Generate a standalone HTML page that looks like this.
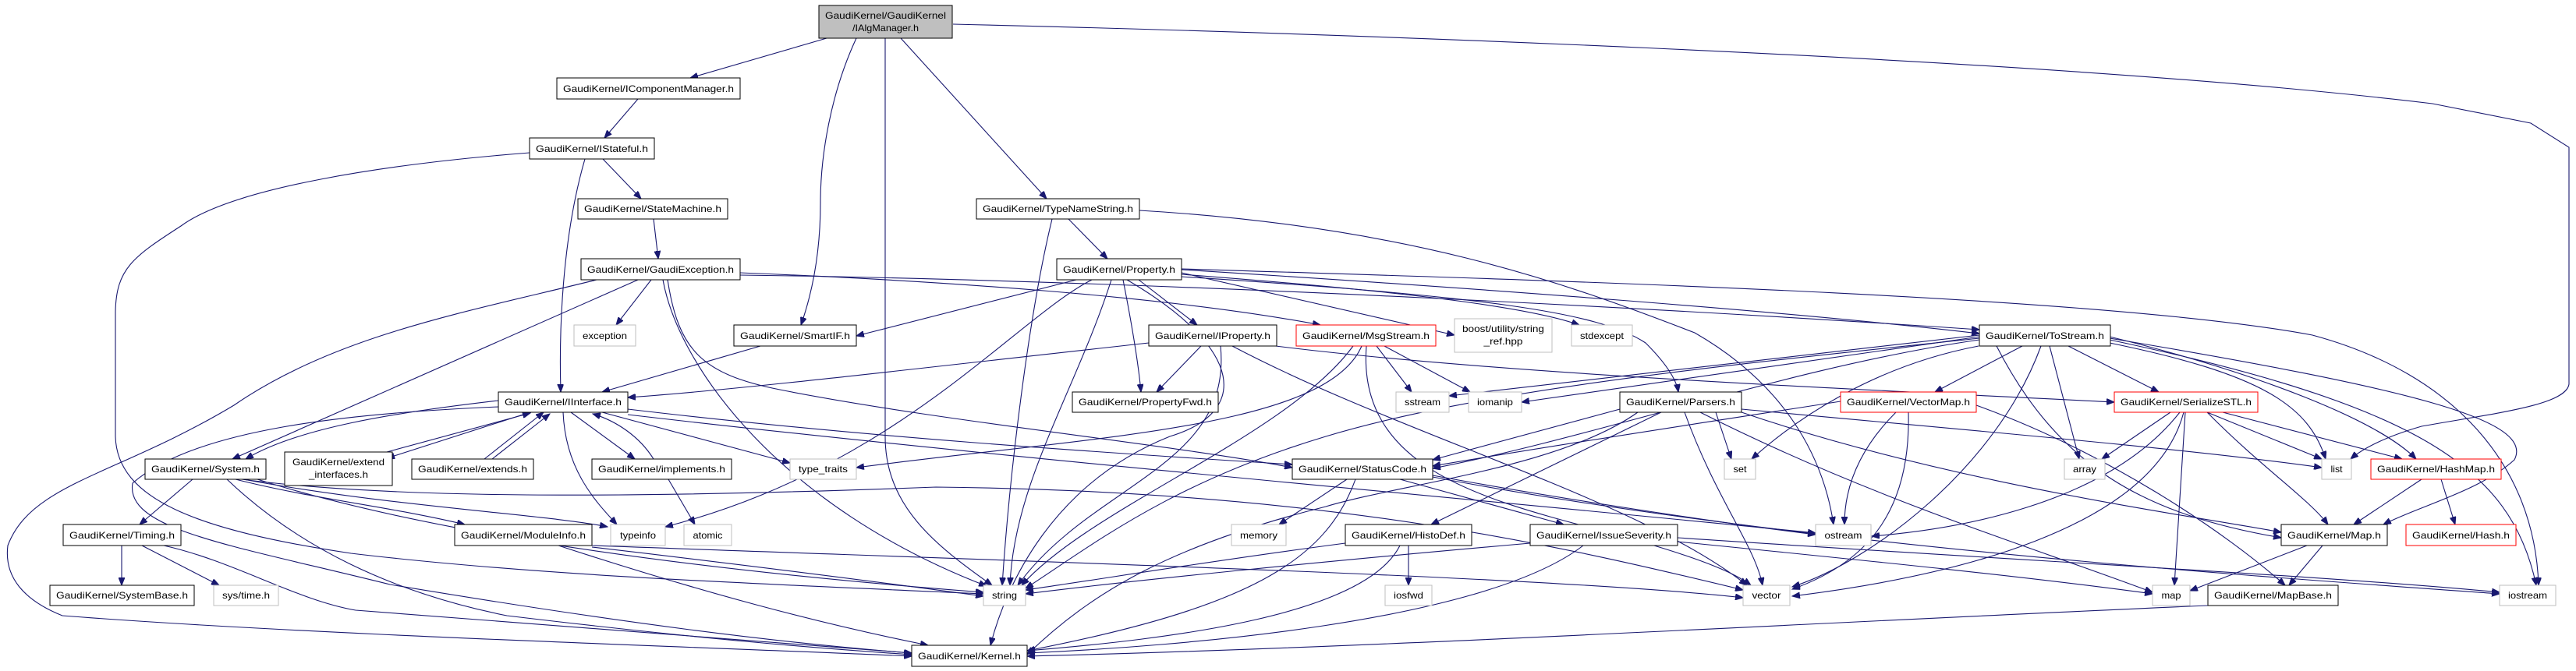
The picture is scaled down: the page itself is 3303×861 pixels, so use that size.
<!DOCTYPE html>
<html><head><meta charset="utf-8"><style>
html,body{margin:0;padding:0;background:#fff;}
svg{display:block;}
text{font-family:"Liberation Sans",sans-serif;font-size:12px;fill:#000;}
.e{fill:none;stroke:#191970;stroke-width:1.1;marker-end:url(#a);}
.b{fill:#fff;stroke:#000;stroke-width:1;}
.g{fill:#fff;stroke:#bfbfbf;stroke-width:1;}
.r{fill:#fff;stroke:#ff0000;stroke-width:1;}
</style></head><body>
<svg width="3303" height="861" viewBox="0 0 3303 861" xmlns="http://www.w3.org/2000/svg">
<defs><marker id="a" markerUnits="userSpaceOnUse" markerWidth="11" markerHeight="8" refX="10" refY="4" orient="auto"><path d="M0,0 L10,4 L0,8 z" fill="#191970" stroke="#191970"/></marker></defs>

<!-- edges -->
<path class="e" d="M1060,49 L885,100"/>
<path class="e" d="M1098,49 C1065,120 1052,200 1052,260 C1052,330 1040,380 1027,417"/>
<path class="e" d="M1135,49 L1135,560 C1135,650 1200,700 1272,751"/>
<path class="e" d="M1155,49 L1342,255"/>
<path class="e" d="M1222,31 C1600,40 2600,70 3119,133 L3245,158 L3294,189 L3294,493 C3290,520 3200,530 3105,547 C3060,560 3030,575 3014,589"/>
<path class="e" d="M818,127 L775,177"/>
<path class="e" d="M773,204 L822,255"/>
<path class="e" d="M750,204 C725,290 716,400 719,503"/>
<path class="e" d="M679,196 C500,210 300,240 232,290 C170,330 149,345 148,400 L148,560 C150,640 250,680 450,710 C700,740 1000,750 1261,762"/>
<path class="e" d="M838,281 L844,332"/>
<path class="e" d="M835,359 L790,417"/>
<path class="e" d="M818,359 L298,589"/>
<path class="e" d="M765,359 C600,400 430,430 300,520 C150,610 40,620 10,700 C5,740 30,770 80,790 C400,815 900,830 1169,842"/>
<path class="e" d="M856,359 C870,450 900,480 1000,500 C1200,540 1500,570 1657,600"/>
<path class="e" d="M850,359 C870,470 1000,650 1265,752"/>
<path class="e" d="M949,350 C1200,360 1500,380 1693,417"/>
<path class="e" d="M949,353 C1500,360 2200,400 2538,423"/>
<path class="e" d="M975,444 L772,503"/>
<path class="e" d="M639,514 C500,530 380,550 315,589"/>
<path class="e" d="M680,529 L496,588"/>
<path class="e" d="M496,580 L680,530"/>
<path class="e" d="M621,589 L697,529"/>
<path class="e" d="M631,589 L705,531"/>
<path class="e" d="M732,529 L814,589"/>
<path class="e" d="M838,589 C820,560 790,540 760,531"/>
<path class="e" d="M722,529 C725,600 760,640 791,673"/>
<path class="e" d="M772,529 L1013,594"/>
<path class="e" d="M805,525 C1100,560 1400,580 1657,596"/>
<path class="e" d="M639,522 C450,530 250,550 170,620 C160,680 300,700 500,750 C800,800 1000,825 1169,838"/>
<path class="e" d="M805,532 C1300,590 2000,650 2328,684"/>
<path class="e" d="M857,615 L891,673"/>
<path class="e" d="M247,615 L179,673"/>
<path class="e" d="M312,615 C500,650 700,660 779,676"/>
<path class="e" d="M302,615 C400,640 500,650 596,673"/>
<path class="e" d="M291,615 C380,700 500,760 650,790 C900,820 1050,832 1169,840"/>
<path class="e" d="M310,615 C500,640 800,640 1200,625 C1700,630 2000,700 2235,757"/>
<path class="e" d="M330,615 C600,700 1000,740 1261,760"/>
<path class="e" d="M156,700 L156,751"/>
<path class="e" d="M182,700 L281,751"/>
<path class="e" d="M210,700 C300,720 380,770 456,783 C800,810 1000,825 1169,838"/>
<path class="e" d="M759,702 C1000,730 1150,750 1261,765"/>
<path class="e" d="M716,700 C900,760 1050,800 1190,828"/>
<path class="e" d="M759,700 C1300,720 2000,740 2235,767"/>
<path class="e" d="M1349,281 C1320,400 1295,600 1285,751"/>
<path class="e" d="M1370,281 L1420,332"/>
<path class="e" d="M1461,270 C1800,290 2000,360 2173,427 C2300,500 2340,600 2351,673"/>
<path class="e" d="M1380,359 L1098,431"/>
<path class="e" d="M1400,359 C1300,410 1150,600 853,676"/>
<path class="e" d="M1425,359 C1380,500 1300,620 1295,751"/>
<path class="e" d="M1445,359 C1600,450 1600,530 1500,560 C1350,620 1290,750 1270,828"/>
<path class="e" d="M1460,359 L1535,417"/>
<path class="e" d="M1440,359 C1452,420 1460,470 1463,503"/>
<path class="e" d="M1515,350 L1865,430"/>
<path class="e" d="M1515,352 C1750,370 1950,390 2025,417"/>
<path class="e" d="M1515,346 C1900,370 2300,400 2538,428"/>
<path class="e" d="M1515,345 C2000,360 2700,380 2965,430 C3150,480 3250,600 3255,751"/>
<path class="e" d="M1515,355 C1900,380 2050,400 2110,440 C2140,470 2150,490 2152,503"/>
<path class="e" d="M1473,440 C1200,470 950,500 805,510"/>
<path class="e" d="M1540,444 L1483,503"/>
<path class="e" d="M1565,444 C1580,600 1400,620 1305,751"/>
<path class="e" d="M1580,444 C1800,560 2100,640 2240,751"/>
<path class="e" d="M1605,440 C1900,480 2400,500 2711,516"/>
<path class="e" d="M1765,444 L1810,503"/>
<path class="e" d="M1775,444 L1885,503"/>
<path class="e" d="M1735,444 C1650,560 1400,650 1310,751"/>
<path class="e" d="M1752,444 C1740,600 1900,640 2050,680 C2200,720 2230,740 2245,751"/>
<path class="e" d="M1746,444 C1700,550 1400,560 1098,600"/>
<path class="e" d="M2593,444 L2481,503"/>
<path class="e" d="M2617,444 C2560,600 2400,720 2298,753"/>
<path class="e" d="M2628,444 L2666,589"/>
<path class="e" d="M2652,444 L2768,503"/>
<path class="e" d="M2705,440 C2900,480 2960,520 2982,589"/>
<path class="e" d="M2705,432 C2900,480 3050,540 3098,589"/>
<path class="e" d="M2705,434 C3100,500 3250,540 3224,590 C3180,630 3100,650 3056,673"/>
<path class="e" d="M2705,436 C3100,520 3220,600 3252,751"/>
<path class="e" d="M2537,444 C2400,470 2300,540 2246,589"/>
<path class="e" d="M2538,430 C2200,470 2000,490 1858,508"/>
<path class="e" d="M2538,432 C2200,480 2050,500 1951,516"/>
<path class="e" d="M2538,436 C2300,470 2050,560 1837,601"/>
<path class="e" d="M2538,434 C2200,470 1900,500 1700,560 C1500,620 1400,700 1315,755"/>
<path class="e" d="M2560,444 C2640,600 2750,660 2925,690"/>
<path class="e" d="M2077,525 L1837,590"/>
<path class="e" d="M2130,529 L1835,673"/>
<path class="e" d="M2233,525 C2500,550 2800,575 2977,600"/>
<path class="e" d="M2233,529 C2500,620 2800,660 2925,683"/>
<path class="e" d="M2180,529 C2400,640 2600,700 2760,760"/>
<path class="e" d="M2160,529 C2200,640 2250,700 2260,751"/>
<path class="e" d="M2200,529 L2220,589"/>
<path class="e" d="M2100,529 C2000,600 1800,620 1700,650 C1500,700 1400,760 1317,840"/>
<path class="e" d="M2360,515 C2200,540 2000,570 1837,598"/>
<path class="e" d="M2431,529 C2380,580 2365,630 2365,673"/>
<path class="e" d="M2447,529 C2450,650 2400,720 2298,756"/>
<path class="e" d="M2534,520 C2700,580 2850,680 2930,751"/>
<path class="e" d="M2783,529 L2695,589"/>
<path class="e" d="M2830,529 L2977,589"/>
<path class="e" d="M2850,529 L3080,589"/>
<path class="e" d="M2830,529 C2900,600 2960,640 2985,673"/>
<path class="e" d="M2802,529 L2788,751"/>
<path class="e" d="M2800,529 C2760,680 2500,740 2298,765"/>
<path class="e" d="M2795,529 C2700,650 2500,680 2400,688"/>
<path class="e" d="M3105,615 L3018,673"/>
<path class="e" d="M3130,615 L3148,673"/>
<path class="e" d="M2958,700 L2808,758"/>
<path class="e" d="M2978,700 L2935,751"/>
<path class="e" d="M2831,777 C2300,800 1800,830 1317,842"/>
<path class="e" d="M1727,615 L1640,673"/>
<path class="e" d="M1795,615 L2005,673"/>
<path class="e" d="M1738,615 C1700,720 1600,780 1317,835"/>
<path class="e" d="M1837,610 C2000,640 2200,670 2328,686"/>
<path class="e" d="M1837,612 C2300,700 2900,740 3205,762"/>
<path class="e" d="M1962,697 C1700,720 1450,745 1315,762"/>
<path class="e" d="M2030,700 C1900,800 1500,830 1317,838"/>
<path class="e" d="M2151,695 C2400,720 2600,740 2760,762"/>
<path class="e" d="M2151,690 C2600,720 3000,740 3205,760"/>
<path class="e" d="M1806,700 L1806,751"/>
<path class="e" d="M1725,697 C1550,720 1400,745 1315,757"/>
<path class="e" d="M1795,700 C1750,790 1500,820 1317,835"/>
<path class="e" d="M1098,600 L1013,600"/>

<!-- nodes -->
<rect x="1050" y="7" width="171" height="42" fill="#bfbfbf" stroke="#000"/>
<text x="1135.5" y="24" text-anchor="middle" textLength="155" lengthAdjust="spacingAndGlyphs">GaudiKernel/GaudiKernel</text>
<text x="1135.5" y="40" text-anchor="middle" textLength="85" lengthAdjust="spacingAndGlyphs">/IAlgManager.h</text>

<rect class="b" x="714" y="100" width="235" height="27"/><text x="831.5" y="118" text-anchor="middle" textLength="219" lengthAdjust="spacingAndGlyphs">GaudiKernel/IComponentManager.h</text>
<rect class="b" x="679" y="177" width="160" height="27"/><text x="759" y="195" text-anchor="middle" textLength="144" lengthAdjust="spacingAndGlyphs">GaudiKernel/IStateful.h</text>
<rect class="b" x="741" y="255" width="192" height="26"/><text x="837" y="272" text-anchor="middle" textLength="176" lengthAdjust="spacingAndGlyphs">GaudiKernel/StateMachine.h</text>
<rect class="b" x="745" y="332" width="204" height="27"/><text x="847" y="350" text-anchor="middle" textLength="188" lengthAdjust="spacingAndGlyphs">GaudiKernel/GaudiException.h</text>
<rect class="g" x="736" y="417" width="79" height="27"/><text x="775.5" y="435" text-anchor="middle" textLength="57" lengthAdjust="spacingAndGlyphs">exception</text>
<rect class="b" x="941" y="417" width="157" height="27"/><text x="1019.5" y="435" text-anchor="middle" textLength="141" lengthAdjust="spacingAndGlyphs">GaudiKernel/SmartIF.h</text>
<rect class="b" x="639" y="503" width="166" height="26"/><text x="722" y="520" text-anchor="middle" textLength="150" lengthAdjust="spacingAndGlyphs">GaudiKernel/IInterface.h</text>
<rect class="b" x="186" y="589" width="155" height="26"/><text x="263.5" y="606" text-anchor="middle" textLength="139" lengthAdjust="spacingAndGlyphs">GaudiKernel/System.h</text>
<rect class="b" x="365" y="580" width="138" height="43"/><text x="434" y="597" text-anchor="middle" textLength="118" lengthAdjust="spacingAndGlyphs">GaudiKernel/extend</text><text x="434" y="613" text-anchor="middle" textLength="76" lengthAdjust="spacingAndGlyphs">_interfaces.h</text>
<rect class="b" x="528" y="589" width="156" height="26"/><text x="606" y="606" text-anchor="middle" textLength="140" lengthAdjust="spacingAndGlyphs">GaudiKernel/extends.h</text>
<rect class="b" x="759" y="589" width="179" height="26"/><text x="848.5" y="606" text-anchor="middle" textLength="163" lengthAdjust="spacingAndGlyphs">GaudiKernel/implements.h</text>
<rect class="g" x="1013" y="589" width="85" height="26"/><text x="1055.5" y="606" text-anchor="middle" textLength="63" lengthAdjust="spacingAndGlyphs">type_traits</text>
<rect class="b" x="81" y="673" width="151" height="27"/><text x="156.5" y="691" text-anchor="middle" textLength="135" lengthAdjust="spacingAndGlyphs">GaudiKernel/Timing.h</text>
<rect class="b" x="583" y="673" width="176" height="27"/><text x="671" y="691" text-anchor="middle" textLength="160" lengthAdjust="spacingAndGlyphs">GaudiKernel/ModuleInfo.h</text>
<rect class="g" x="783" y="673" width="70" height="27"/><text x="818" y="691" text-anchor="middle" textLength="46" lengthAdjust="spacingAndGlyphs">typeinfo</text>
<rect class="g" x="877" y="673" width="61" height="27"/><text x="907.5" y="691" text-anchor="middle" textLength="38" lengthAdjust="spacingAndGlyphs">atomic</text>
<rect class="b" x="64" y="751" width="185" height="26"/><text x="156.5" y="768" text-anchor="middle" textLength="169" lengthAdjust="spacingAndGlyphs">GaudiKernel/SystemBase.h</text>
<rect class="g" x="274" y="751" width="83" height="26"/><text x="315.5" y="768" text-anchor="middle" textLength="61" lengthAdjust="spacingAndGlyphs">sys/time.h</text>
<rect class="b" x="1252" y="255" width="209" height="26"/><text x="1356.5" y="272" text-anchor="middle" textLength="193" lengthAdjust="spacingAndGlyphs">GaudiKernel/TypeNameString.h</text>
<rect class="b" x="1355" y="332" width="160" height="27"/><text x="1435" y="350" text-anchor="middle" textLength="144" lengthAdjust="spacingAndGlyphs">GaudiKernel/Property.h</text>
<rect class="b" x="1473" y="417" width="164" height="27"/><text x="1555" y="435" text-anchor="middle" textLength="148" lengthAdjust="spacingAndGlyphs">GaudiKernel/IProperty.h</text>
<rect class="r" x="1662" y="417" width="179" height="27"/><text x="1751.5" y="435" text-anchor="middle" textLength="163" lengthAdjust="spacingAndGlyphs">GaudiKernel/MsgStream.h</text>
<rect class="g" x="1865" y="409" width="125" height="43"/><text x="1927.5" y="426" text-anchor="middle" textLength="105" lengthAdjust="spacingAndGlyphs">boost/utility/string</text><text x="1927.5" y="442" text-anchor="middle" textLength="50" lengthAdjust="spacingAndGlyphs">_ref.hpp</text>
<rect class="g" x="2015" y="417" width="78" height="27"/><text x="2054" y="435" text-anchor="middle" textLength="56" lengthAdjust="spacingAndGlyphs">stdexcept</text>
<rect class="b" x="1375" y="503" width="187" height="26"/><text x="1468.5" y="520" text-anchor="middle" textLength="171" lengthAdjust="spacingAndGlyphs">GaudiKernel/PropertyFwd.h</text>
<rect class="g" x="1790" y="503" width="68" height="26"/><text x="1824" y="520" text-anchor="middle" textLength="46" lengthAdjust="spacingAndGlyphs">sstream</text>
<rect class="g" x="1883" y="503" width="68" height="26"/><text x="1917" y="520" text-anchor="middle" textLength="46" lengthAdjust="spacingAndGlyphs">iomanip</text>
<rect class="b" x="2077" y="503" width="156" height="26"/><text x="2155" y="520" text-anchor="middle" textLength="140" lengthAdjust="spacingAndGlyphs">GaudiKernel/Parsers.h</text>
<rect class="b" x="1657" y="589" width="180" height="26"/><text x="1747" y="606" text-anchor="middle" textLength="164" lengthAdjust="spacingAndGlyphs">GaudiKernel/StatusCode.h</text>
<rect class="g" x="1579" y="673" width="70" height="27"/><text x="1614" y="691" text-anchor="middle" textLength="48" lengthAdjust="spacingAndGlyphs">memory</text>
<rect class="b" x="1725" y="673" width="162" height="27"/><text x="1806" y="691" text-anchor="middle" textLength="146" lengthAdjust="spacingAndGlyphs">GaudiKernel/HistoDef.h</text>
<rect class="b" x="1962" y="673" width="189" height="27"/><text x="2056.5" y="691" text-anchor="middle" textLength="173" lengthAdjust="spacingAndGlyphs">GaudiKernel/IssueSeverity.h</text>
<rect class="g" x="1261" y="751" width="54" height="26"/><text x="1288" y="768" text-anchor="middle" textLength="32" lengthAdjust="spacingAndGlyphs">string</text>
<rect class="g" x="1776" y="751" width="60" height="26"/><text x="1806" y="768" text-anchor="middle" textLength="38" lengthAdjust="spacingAndGlyphs">iosfwd</text>
<rect class="b" x="1169" y="828" width="148" height="27"/><text x="1243" y="846" text-anchor="middle" textLength="132" lengthAdjust="spacingAndGlyphs">GaudiKernel/Kernel.h</text>
<rect class="b" x="2538" y="417" width="168" height="27"/><text x="2622" y="435" text-anchor="middle" textLength="152" lengthAdjust="spacingAndGlyphs">GaudiKernel/ToStream.h</text>
<rect class="r" x="2360" y="503" width="174" height="26"/><text x="2447" y="520" text-anchor="middle" textLength="158" lengthAdjust="spacingAndGlyphs">GaudiKernel/VectorMap.h</text>
<rect class="r" x="2711" y="503" width="184" height="26"/><text x="2803" y="520" text-anchor="middle" textLength="168" lengthAdjust="spacingAndGlyphs">GaudiKernel/SerializeSTL.h</text>
<rect class="g" x="2211" y="589" width="40" height="26"/><text x="2231" y="606" text-anchor="middle" textLength="17" lengthAdjust="spacingAndGlyphs">set</text>
<rect class="g" x="2647" y="589" width="52" height="26"/><text x="2673" y="606" text-anchor="middle" textLength="30" lengthAdjust="spacingAndGlyphs">array</text>
<rect class="g" x="2977" y="589" width="38" height="26"/><text x="2996" y="606" text-anchor="middle" textLength="15" lengthAdjust="spacingAndGlyphs">list</text>
<rect class="r" x="3040" y="589" width="167" height="26"/><text x="3123.5" y="606" text-anchor="middle" textLength="151" lengthAdjust="spacingAndGlyphs">GaudiKernel/HashMap.h</text>
<rect class="g" x="2328" y="673" width="71" height="27"/><text x="2363.5" y="691" text-anchor="middle" textLength="48" lengthAdjust="spacingAndGlyphs">ostream</text>
<rect class="b" x="2925" y="673" width="136" height="27"/><text x="2993" y="691" text-anchor="middle" textLength="120" lengthAdjust="spacingAndGlyphs">GaudiKernel/Map.h</text>
<rect class="r" x="3085" y="673" width="141" height="27"/><text x="3155.5" y="691" text-anchor="middle" textLength="125" lengthAdjust="spacingAndGlyphs">GaudiKernel/Hash.h</text>
<rect class="g" x="2235" y="751" width="60" height="26"/><text x="2265" y="768" text-anchor="middle" textLength="37" lengthAdjust="spacingAndGlyphs">vector</text>
<rect class="g" x="2760" y="751" width="48" height="26"/><text x="2784" y="768" text-anchor="middle" textLength="25" lengthAdjust="spacingAndGlyphs">map</text>
<rect class="b" x="2831" y="751" width="167" height="26"/><text x="2914.5" y="768" text-anchor="middle" textLength="151" lengthAdjust="spacingAndGlyphs">GaudiKernel/MapBase.h</text>
<rect class="g" x="3205" y="751" width="72" height="26"/><text x="3241" y="768" text-anchor="middle" textLength="50" lengthAdjust="spacingAndGlyphs">iostream</text>
</svg>
</body></html>
